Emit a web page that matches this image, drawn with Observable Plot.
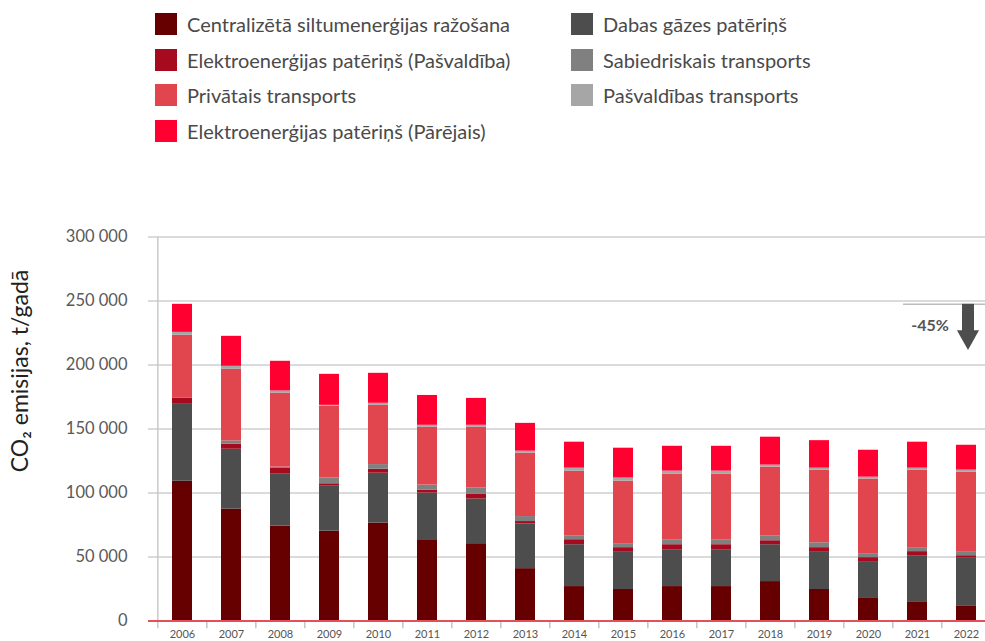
<!DOCTYPE html>
<html>
<head>
<meta charset="utf-8">
<script src="https://cdn.jsdelivr.net/npm/d3@7"></script>
<script src="https://cdn.jsdelivr.net/npm/@observablehq/plot@0.6"></script>
<style>
  html, body { margin: 0; padding: 0; background: #fff; }
  body { width: 985px; height: 641px; overflow: hidden; font-family: Lato, "Open Sans", sans-serif; }
  #legend { position: relative; width: 985px; height: 150px; }
  .item { position: absolute; height: 22px; display: flex; align-items: center; white-space: nowrap; }
  .sw { width: 22px; height: 22px; margin-right: 10px; flex: none; }
  .lab { font-size: 20px; color: #4a4a4a; }
  #chart svg { display: block; }
</style>
</head>
<body>
<div id="legend"></div>
<div id="chart"></div>
<script>
// ---- data (thousand tonnes CO2 per year) ----
const years = ["2006","2007","2008","2009","2010","2011","2012","2013","2014","2015","2016","2017","2018","2019","2020","2021","2022"];

const centralizeta = [109.2, 87.4, 74.1, 70.2, 76.5, 63.5, 60.4, 40.9, 26.9, 24.6, 26.9, 26.9, 30.8, 24.6, 17.6, 14.5, 11.4];
const dabasGaze    = [60.1, 46.8, 40.6, 35.1, 39.0, 36.5, 34.9, 35.0, 32.7, 29.6, 28.8, 28.8, 28.8, 29.6, 28.8, 36.5, 38.1];
const elektroPasv  = [4.7, 3.9, 4.9, 1.9, 3.1, 2.3, 3.9, 1.8, 3.9, 3.1, 3.9, 3.9, 3.1, 3.1, 3.1, 3.2, 1.5];
const sabiedriskais= [0.0, 2.6, 0.6, 4.6, 3.6, 3.9, 4.7, 3.9, 3.1, 3.1, 3.9, 3.9, 3.9, 3.8, 3.1, 3.1, 3.2];
const privatais    = [49.2, 55.9, 57.7, 56.0, 46.3, 45.1, 47.4, 49.5, 50.5, 48.9, 51.3, 51.3, 53.6, 56.8, 58.3, 60.6, 62.1];
const pasvTransp   = [2.3, 2.4, 1.8, 0.7, 1.6, 1.6, 1.6, 1.6, 2.3, 2.4, 2.3, 2.3, 1.6, 1.5, 1.5, 1.5, 1.6];
const elektroPar   = [21.9, 23.4, 23.2, 24.2, 23.4, 23.3, 21.0, 21.7, 20.3, 23.3, 19.4, 19.4, 21.8, 21.5, 21.0, 20.3, 19.4];

// stacking order bottom -> top
const seriesNames = [
  "Centralizētā siltumenerģijas ražošana",
  "Dabas gāzes patēriņš",
  "Elektroenerģijas patēriņš (Pašvaldība)",
  "Sabiedriskais transports",
  "Privātais transports",
  "Pašvaldības transports",
  "Elektroenerģijas patēriņš (Pārējais)"
];
const seriesValues = [centralizeta, dabasGaze, elektroPasv, sabiedriskais, privatais, pasvTransp, elektroPar];
const seriesColors = ["#660000", "#4d4d4d", "#a50a1e", "#808080", "#e1464f", "#a6a6a6", "#ff0030"];

// legend layout: two columns
const legendCol1 = ["Centralizētā siltumenerģijas ražošana", "Elektroenerģijas patēriņš (Pašvaldība)", "Privātais transports", "Elektroenerģijas patēriņš (Pārējais)"];
const legendCol2 = ["Dabas gāzes patēriņš", "Sabiedriskais transports", "Pašvaldības transports"];

const yTicks = [0, 50000, 100000, 150000, 200000, 250000, 300000];
const yLabel = "CO₂ emisijas, t/gadā";
const reductionLabel = "-45%";

// ---- legend ----
const legend = document.getElementById("legend");
[[legendCol1, 155], [legendCol2, 571]].forEach(([names, left]) => {
  names.forEach((name, i) => {
    const it = document.createElement("div");
    it.className = "item";
    it.style.left = left + "px";
    it.style.top = (13 + i * 35.5) + "px";
    const sw = document.createElement("span");
    sw.className = "sw";
    sw.style.background = seriesColors[seriesNames.indexOf(name)];
    const lab = document.createElement("span");
    lab.className = "lab";
    lab.textContent = name;
    it.appendChild(sw); it.appendChild(lab);
    legend.appendChild(it);
  });
});

// ---- table ----
const table = [];
years.forEach((yr, i) => {
  seriesNames.forEach((s, j) => table.push({year: yr, series: s, value: seriesValues[j][i] * 1000}));
});
const total2006 = d3.sum(seriesValues, v => v[0]) * 1000;

const fmt = d => d3.format(",")(d).replace(/,/g, " ");
const step = (993 - 154) / years.length;
const lastYear = years[years.length - 1];

const downTriangle = {
  draw(ctx, size) {
    const r = Math.sqrt(size / Math.PI);
    ctx.moveTo(-1.35 * r, -1.2 * r);
    ctx.lineTo(1.35 * r, -1.2 * r);
    ctx.lineTo(0, 1.2 * r);
    ctx.closePath();
  }
};

const chart = Plot.plot({
  width: 985,
  height: 491,
  marginLeft: 148,
  marginRight: 0,
  marginTop: 86.5,
  marginBottom: 20.5,
  style: {fontFamily: "Lato, 'Open Sans', sans-serif", background: "#fff"},
  x: {type: "band", domain: years, range: [154, 993], paddingInner: 0.6, paddingOuter: 0.3, axis: null},
  y: {domain: [0, 300000], range: [470.5, 86.5], axis: null},
  color: {domain: seriesNames, range: seriesColors},
  marks: [
    Plot.ruleY(yTicks.filter(d => d > 0), {stroke: "#cfcfcf", strokeWidth: 1.5}),
    Plot.ruleX([years[0]], {dx: -step / 2, y1: -6000, y2: 300000, stroke: "#cacaca", strokeWidth: 1.5}),
    Plot.ruleX(years.slice(1), {dx: -step / 2, y1: 0, y2: -6000, stroke: "#c4c4c4", strokeWidth: 1.5}),
    Plot.barY(table, {x: "year", y: "value", fill: "series", order: seriesNames}),
    Plot.ruleY([0], {stroke: "#e3505a", strokeWidth: 2}),
    Plot.axisY({ticks: yTicks, tickSize: 0, tickPadding: 21, tickFormat: fmt, fontSize: 16.5, color: "#595959", label: null}),
    Plot.axisX({tickSize: 0, tickPadding: 9.5, fontSize: 11, color: "#555", label: null}),
    Plot.text([yLabel], {frameAnchor: "left", rotate: -90, dx: -128, dy: -58, fontSize: 23, fill: "#222", textAnchor: "middle"}),
    // -45% annotation
    Plot.ruleY([total2006], {insetLeft: 755, stroke: "#bdbdbd", strokeWidth: 1.5}),
    Plot.ruleX([lastYear], {y1: 226000, y2: total2006, dx: 1.5, stroke: "#4d4d4d", strokeWidth: 12}),
    Plot.dot([lastYear], {x: d => d, y: 219500, dx: 1.5, r: 8.2, symbol: downTriangle, fill: "#4d4d4d", stroke: "none"}),
    Plot.text([reductionLabel], {x: () => lastYear, y: 230900, dx: -36.5, fontSize: 16, fontWeight: "bold", fill: "#555"})
  ]
});
document.getElementById("chart").appendChild(chart);
</script>
</body>
</html>
